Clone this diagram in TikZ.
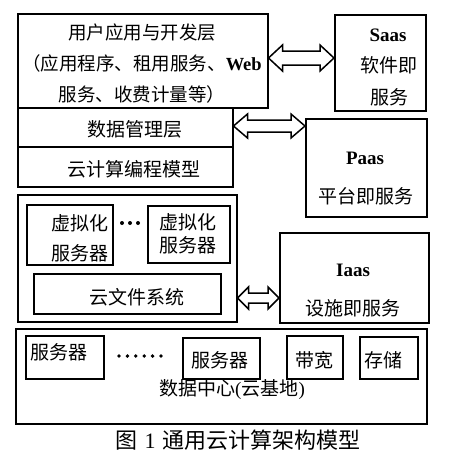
\documentclass[tikz,border=0pt]{standalone}
\usepackage{fontspec}
\setmainfont{Liberation Serif}
\newfontfamily\cjk{Noto Sans CJK SC}
\usetikzlibrary{calc}
\tikzset{
  box/.style={draw, line width=1.5pt, inner sep=0pt, anchor=north west},
  txt/.style={font=\cjk\fontsize{19}{30}\selectfont, inner sep=0pt, align=center},
  lat/.style={font=\bfseries\fontsize{19}{30}\selectfont, inner sep=0pt},
  blockarrow/.style={draw, line width=1.5pt, fill=white, line join=miter},
  dotsty/.style={fill=black, draw=none}
}
\newcommand{\bx}[5]{\node[box, minimum width={(#4-#2)*1pt}, minimum height={(#5-#3)*1pt}] (#1) at (#2,#3) {};}
\newcommand{\dblarrow}[5]{%
  \draw[blockarrow] (#1) -- ($(#1)+(#5,#3)$) -- ($(#1)+(#5,#4)$) -- ($(#2)+(-#5,#4)$) -- ($(#2)+(-#5,#3)$) -- (#2)
    -- ($(#2)+(-#5,-#3)$) -- ($(#2)+(-#5,-#4)$) -- ($(#1)+(#5,-#4)$) -- ($(#1)+(#5,-#3)$) -- cycle;}
\begin{document}
\begin{tikzpicture}[x=1pt,y=-1pt]
\useasboundingbox[fill=white] (0,0) rectangle (454,463);
% boxes
\bx{app}{17}{13}{267}{107}
\bx{saas}{334}{14}{425}{110}
\bx{dm}{17}{107}{232}{146}
\bx{cpm}{17}{146}{232}{186}
\bx{paas}{305}{118}{426}{216}
\bx{virt}{17}{194}{236}{321}
\bx{vsa}{26}{204}{112}{264}
\bx{vsb}{147}{205}{229}{262}
\bx{cfs}{33}{273}{220}{313}
\bx{iaas}{279}{232}{428}{322}
\bx{dc}{15}{328}{426}{423}
\bx{sa}{25}{335}{103}{378}
\bx{sb}{182}{337}{259}{378}
\bx{bw}{286}{335}{342}{378}
\bx{st}{359}{336}{417}{378}
% texts
\node[txt, font=\cjk\fontsize{18.5}{31}\selectfont] (tapp) at (142,64) {用户应用与开发层\\（应用程序、租用服务、{\rmfamily\bfseries Web}\\服务、收费计量等）};
\node[lat] (tsaas1) at (388,35) {Saas};
\node[txt, font=\cjk\fontsize{19}{32}\selectfont] (tsaas2) at (389,81) {软件即\\服务};
\node[txt] (tdm) at (135,129) {数据管理层};
\node[txt] (tcpm) at (134,169) {云计算编程模型};
\node[lat] (tpaas1) at (365,158) {Paas};
\node[txt] (tpaas2) at (366,196) {平台即服务};
\node[txt] (tvsa) at (80,238) {虚拟化\\服务器};
\node[txt, font=\cjk\fontsize{19}{23}\selectfont] (tvsb) at (188,233.5) {虚拟化\\服务器};
\node[txt] (tcfs) at (137,297) {云文件系统};
\node[lat] (tiaas1) at (353,270) {Iaas};
\node[txt] (tiaas2) at (353,308) {设施即服务};
\node[txt] (tsa) at (59,352) {服务器};
\node[txt] (tsb) at (220,360) {服务器};
\node[txt] (tbw) at (314,360) {带宽};
\node[txt] (tst) at (383,360) {存储};
\node[txt] (tdc) at (232,390) {数据中心{\rmfamily(}云基地{\rmfamily)}};
\node[txt, font=\cjk\fontsize{22}{25}\selectfont] (cap) at (238,440) {图\hspace{7pt}{\rmfamily 1}\hspace{7pt}通用云计算架构模型};
% dots
\foreach \i in {0,1,2} \fill[dotsty] ({122+8*\i},223) circle (2);
\foreach \i in {0,...,5} \fill[dotsty] ({119+8.4*\i},356) circle (1.9);
% arrows
\coordinate (a1l) at (app.east |- 0,58);
\coordinate (a1r) at (saas.west |- 0,58);
\coordinate (a2l) at (dm.east |- 0,126);
\coordinate (a2r) at (paas.west |- 0,126);
\coordinate (a3l) at (virt.east |- 0,298);
\coordinate (a3r) at (iaas.west |- 0,298);
\dblarrow{a1l}{a1r}{13}{7}{14}
\dblarrow{a2l}{a2r}{12}{6}{14}
\dblarrow{a3l}{a3r}{11}{5}{11}
\end{tikzpicture}
\end{document}
